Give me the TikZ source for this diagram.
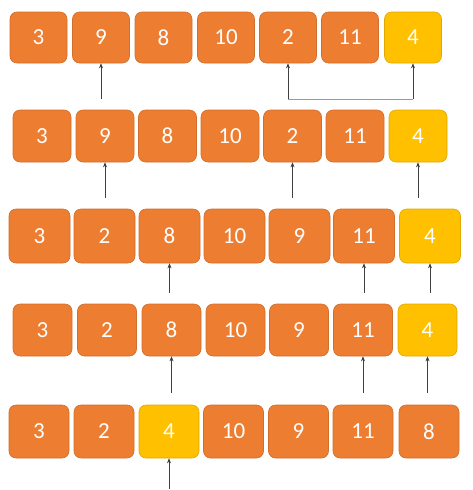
\documentclass[tikz,border=0pt]{standalone}
\usepackage{fontspec}
\setmainfont{Carlito}
\usetikzlibrary{arrows.meta}
\definecolor{boxorange}{HTML}{ED7D31}
\definecolor{boxgold}{HTML}{FFC000}
\begin{document}
\begin{tikzpicture}[x=1pt, y=-1pt,
        cell/.style={rectangle, rounded corners=7pt, draw=boxorange!88!black, line width=0.6pt, fill=boxorange, text=white, font=\fontsize{23}{27}\selectfont, inner sep=0pt},
        pivot/.style={cell, draw=boxgold!88!black, fill=boxgold},
        ptr/.style={-{Stealth[length=5pt, width=4pt]}, line width=0.6pt, black!75}
    ]
        \useasboundingbox (0,0) rectangle (472,490);

        % row 1
        \tikzset{every node/.append style={minimum width=57pt, minimum height=51pt}}
        \node[cell] (a1) at (38.5,37.5) {3};
        \node[cell] (a2) at (101,37.5) {9};
        \node[cell] (a3) at (163.5,37.5) {8};
        \node[cell] (a4) at (226,37.5) {10};
        \node[cell] (a5) at (288,37.5) {2};
        \node[cell] (a6) at (350,37.5) {11};
        \node[pivot] (a7) at (413,37.5) {4};
        \coordinate (pa2) at (101,99);
        \coordinate (pa5) at (288,99);
        \coordinate (pa7) at (413,99);
        \draw[ptr] (pa2) -- (a2.south);
        \draw[ptr] (pa5) -- (a5.south);
        \draw[ptr] (pa7) -- (a7.south);
        \draw[black!40, line width=0.6pt] (pa5) -- (pa7);

        % row 2
        \tikzset{every node/.append style={minimum width=58pt, minimum height=52pt}}
        \node[cell] (b1) at (42,136) {3};
        \node[cell] (b2) at (105,136) {9};
        \node[cell] (b3) at (167.5,136) {8};
        \node[cell] (b4) at (230,136) {10};
        \node[cell] (b5) at (292.5,136) {2};
        \node[cell] (b6) at (355,136) {11};
        \node[pivot] (b7) at (418,136) {4};
        \coordinate (pb2) at (105,198);
        \coordinate (pb5) at (292.5,198);
        \coordinate (pb7) at (418,198);
        \draw[ptr] (pb2) -- (b2.south);
        \draw[ptr] (pb5) -- (b5.south);
        \draw[ptr] (pb7) -- (b7.south);

        % row 3
        \tikzset{every node/.append style={minimum width=61pt, minimum height=54pt}}
        \node[cell] (c1) at (39.5,236) {3};
        \node[cell] (c2) at (104.5,236) {2};
        \node[cell] (c3) at (169.5,236) {8};
        \node[cell] (c4) at (234.5,236) {10};
        \node[cell] (c5) at (299.5,236) {9};
        \node[cell] (c6) at (364,236) {11};
        \node[pivot] (c7) at (430,236) {4};
        \coordinate (pc3) at (169.5,293);
        \coordinate (pc6) at (364,293);
        \coordinate (pc7) at (430,293);
        \draw[ptr] (pc3) -- (c3.south);
        \draw[ptr] (pc6) -- (c6.south);
        \draw[ptr] (pc7) -- (c7.south);

        % row 4
        \tikzset{every node/.append style={minimum width=59pt, minimum height=52pt}}
        \node[cell] (d1) at (42.5,330) {3};
        \node[cell] (d2) at (107,330) {2};
        \node[cell] (d3) at (171.5,330) {8};
        \node[cell] (d4) at (235.5,330) {10};
        \node[cell] (d5) at (299,330) {9};
        \node[cell] (d6) at (363,330) {11};
        \node[pivot] (d7) at (427.5,330) {4};
        \coordinate (pd3) at (171.5,393);
        \coordinate (pd6) at (363,393);
        \coordinate (pd7) at (427.5,393);
        \draw[ptr] (pd3) -- (d3.south);
        \draw[ptr] (pd6) -- (d6.south);
        \draw[ptr] (pd7) -- (d7.south);

        % row 5
        \tikzset{every node/.append style={minimum width=60pt, minimum height=53pt}}
        \node[cell] (e1) at (39,431.5) {3};
        \node[cell] (e2) at (104,431.5) {2};
        \node[pivot] (e3) at (169,431.5) {4};
        \node[cell] (e4) at (233.5,431.5) {10};
        \node[cell] (e5) at (298.5,431.5) {9};
        \node[cell] (e6) at (363,431.5) {11};
        \node[cell] (e7) at (429,431.5) {8};
        \coordinate (pe3) at (169,489);
        \draw[ptr] (pe3) -- (e3.south);
    \end{tikzpicture}
\end{document}
